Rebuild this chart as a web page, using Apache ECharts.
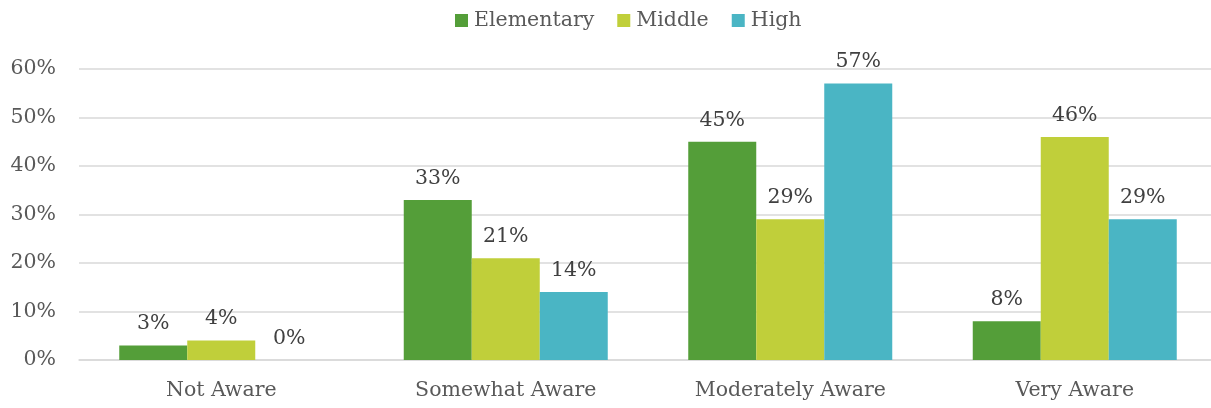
<!DOCTYPE html>
<html><head><meta charset="utf-8">
<script src="https://cdn.jsdelivr.net/npm/echarts@6/dist/echarts.min.js"></script>
<style>html,body{margin:0;padding:0;background:#fff}#c{width:1211px;height:408px}</style>
</head><body><div id="c"></div>
<script>
const categories = ['Not Aware', 'Somewhat Aware', 'Moderately Aware', 'Very Aware'];
const elementary = [3, 33, 45, 8];
const middle = [4, 21, 29, 46];
const high = [0, 14, 57, 29];
const yTicks = [0, 10, 20, 30, 40, 50, 60];

const font = 'DejaVu Serif';
const chart = echarts.init(document.getElementById('c'));
function mk(name, data, color) {
  return {
    name, type: 'bar', data, barWidth: 68, barGap: '0%',
    itemStyle: { color },
    label: { show: true, position: 'top', distance: 11, formatter: '{c}%',
      color: '#404040', fontFamily: font, fontSize: 20.5 }
  };
}
chart.setOption({
  animation: false,
  legend: {
    top: 5, left: 450, itemWidth: 13, itemHeight: 13, itemGap: 23,
    icon: 'rect',
    textStyle: { color: '#595959', fontFamily: font, fontSize: 20.5, padding: [0, 0, 0, 1] }
  },
  grid: { left: 79, width: 1138, top: 69, bottom: 48, containLabel: false, outerBoundsMode: 'none' },
  xAxis: {
    type: 'category', data: categories,
    axisLine: { lineStyle: { color: '#D9D9D9', width: 1.5 } },
    axisTick: { show: false },
    axisLabel: { color: '#595959', fontFamily: font, fontSize: 20.5, margin: 20 }
  },
  yAxis: {
    type: 'value', min: yTicks[0], max: yTicks[yTicks.length - 1], interval: 10,
    axisLine: { show: false }, axisTick: { show: false },
    splitLine: { lineStyle: { color: '#D9D9D9', width: 1.5 } },
    axisLabel: { color: '#595959', fontFamily: font, fontSize: 20.5, margin: 23,
      formatter: v => v + '%' }
  },
  series: [
    mk('Elementary', elementary, '#549E39'),
    mk('Middle', middle, '#C0CF3A'),
    mk('High', high, '#4AB5C4')
  ]
});
</script></body></html>
